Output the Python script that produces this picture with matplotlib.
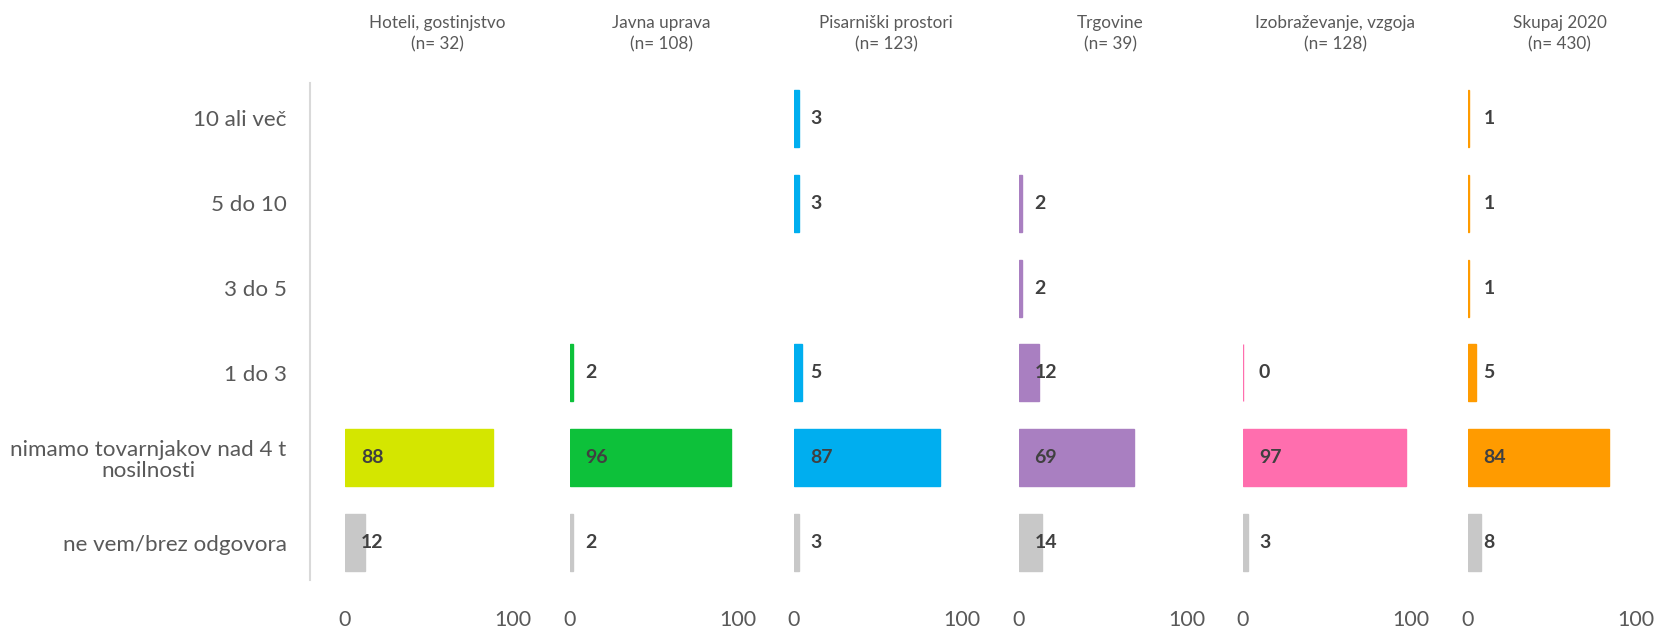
import matplotlib.pyplot as plt
from matplotlib.lines import Line2D

plt.rcParams['font.family'] = ['Lato', 'DejaVu Sans']

categories = ['10 ali več', '5 do 10', '3 do 5', '1 do 3',
              'nimamo tovarnjakov nad 4 t\nnosilnosti', 'ne vem/brez odgovora']

panel_titles = ['Hoteli, gostinjstvo', 'Javna uprava', 'Pisarniški prostori',
                'Trgovine', 'Izobraževanje, vzgoja', 'Skupaj 2020']
panel_n = [32, 108, 123, 39, 128, 430]

# values per panel, rows in the order of categories (None = no bar)
hoteli = [None, None, None, None, 88, 12]
javna = [None, None, None, 2, 96, 2]
pisarne = [3, 3, None, 5, 87, 3]
trgovine = [None, 2, 2, 12, 69, 14]
izobrazevanje = [None, None, None, 0, 97, 3]
skupaj = [1, 1, 1, 5, 84, 8]

panel_values = [hoteli, javna, pisarne, trgovine, izobrazevanje, skupaj]
panel_colors = ['#D4E600', '#0DC13A', '#00AEEF', '#A97FC1', '#FF6EAE', '#FF9B00']
grey = '#C8C8C8'

W, H = 1654, 629
fig = plt.figure(figsize=(W / 100, H / 100), dpi=100)

ax_bottom = (H - 585) / H
ax_height = (585 - 76) / H

for i, (vals, col) in enumerate(zip(panel_values, panel_colors)):
    left = (345 + i * 224.5) / W
    ax = fig.add_axes([left, ax_bottom, 168 / W, ax_height])
    for j, v in enumerate(vals):
        if v is None:
            continue
        c = grey if j == len(vals) - 1 else col
        ax.barh(j, v, height=0.67, color=c, edgecolor=c, linewidth=1)
        ax.text(9.5, j, str(v), ha='left', va='center', fontsize=14,
                fontweight='bold', color='#404040')
    ax.set_xlim(0, 100)
    ax.set_ylim(len(categories) - 0.5, -0.5)
    ax.set_xticks([0, 100])
    ax.tick_params(axis='x', length=0, pad=18, labelsize=15.5, labelcolor='#595959')
    for s in ax.spines.values():
        s.set_visible(False)
    if i == 0:
        ax.set_yticks(range(len(categories)))
        ax.set_yticklabels(categories)
        ax.tick_params(axis='y', length=0, pad=42, labelsize=16.1, labelcolor='#595959')
        for t in ax.get_yticklabels():
            t.set_multialignment('center')
            t.set_linespacing(1.05)
    else:
        ax.set_yticks([])
    cx = left + 174 / W / 2 + 5 / W
    fig.text(cx, 1 - 33.5 / H, f'{panel_titles[i]}\n(n= {panel_n[i]})', ha='center',
             va='center', fontsize=12.3, color='#595959', linespacing=1.4)

fig.add_artist(Line2D([310 / W, 310 / W], [1 - 83 / H, 1 - 580 / H],
                      color='#D9D9D9', linewidth=1.5))

fig.savefig('out.png', dpi=100)
